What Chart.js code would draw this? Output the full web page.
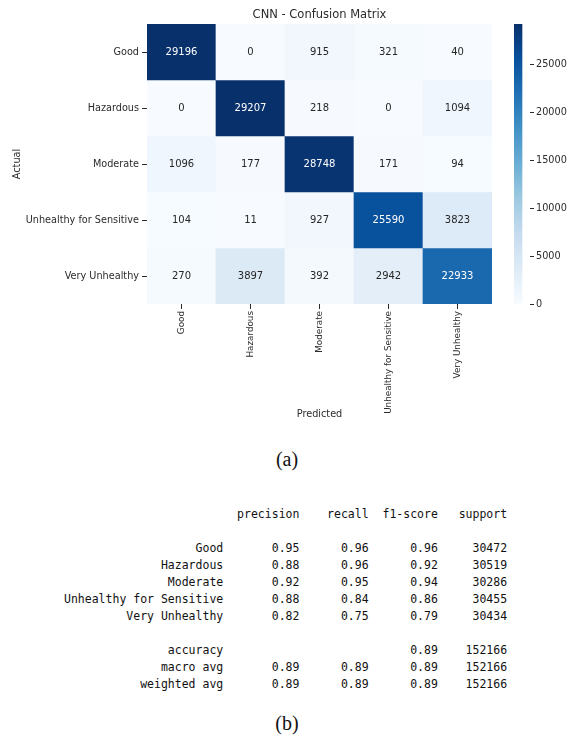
<!DOCTYPE html>
<html>
<head>
<meta charset="utf-8">
<title>CNN - Confusion Matrix</title>
<script src="https://cdn.jsdelivr.net/npm/chart.js@4/dist/chart.umd.min.js"></script>
<style>
  html, body { margin: 0; padding: 0; background: #fff; }
  #wrap { position: relative; width: 572px; height: 742px; overflow: hidden; }
  #heat { position: absolute; left: 0; top: 0; }
  #cbar { position: absolute; left: 500px; top: 0; }
  .cap { position: absolute; left: 0; width: 574px; text-align: center;
         font-family: "Liberation Serif", "Times New Roman", serif; font-size: 20px;
         line-height: 24px; color: #111; }
  #report { position: absolute; left: 64px; top: 506px; margin: 0;
            font-family: "DejaVu Sans Mono", "Liberation Mono", monospace;
            font-size: 11.5px; line-height: 17px; color: #111; white-space: pre; }
</style>
</head>
<body>
<div id="wrap">
  <canvas id="heat" width="572" height="430"></canvas>
  <canvas id="cbar" width="72" height="430"></canvas>
  <div class="cap" style="top:447px">(a)</div>
  <pre id="report"></pre>
  <div class="cap" style="top:711px">(b)</div>
</div>
<script>
// Class names (rows = actual, columns = predicted)
const predictedLabels = ['Good', 'Hazardous', 'Moderate', 'Unhealthy for Sensitive', 'Very Unhealthy'];
const actualLabels = ['Good', 'Hazardous', 'Moderate', 'Unhealthy for Sensitive', 'Very Unhealthy'];

// Confusion matrix counts, one array per actual class
const rowGood = [29196, 0, 915, 321, 40];
const rowHazardous = [0, 29207, 218, 0, 1094];
const rowModerate = [1096, 177, 28748, 171, 94];
const rowUnhealthySensitive = [104, 11, 927, 25590, 3823];
const rowVeryUnhealthy = [270, 3897, 392, 2942, 22933];

// Colour bar tick values
const colorbarTicks = [0, 5000, 10000, 15000, 20000, 25000];

// Classification report
const precision = [0.95, 0.88, 0.92, 0.88, 0.82];
const recall = [0.96, 0.96, 0.95, 0.84, 0.75];
const f1Score = [0.96, 0.92, 0.94, 0.86, 0.79];
const support = [30472, 30519, 30286, 30455, 30434];
const accuracy = 0.89;
const macroAvg = [0.89, 0.89, 0.89];
const weightedAvg = [0.89, 0.89, 0.89];
const totalSupport = 152166;

const matrix = [rowGood, rowHazardous, rowModerate, rowUnhealthySensitive, rowVeryUnhealthy];
const vmin = Math.min(...matrix.flat());
const vmax = Math.max(...matrix.flat());

// "Blues" sequential colour map
const BLUES = ['#f7fbff', '#deebf7', '#c6dbef', '#9ecae1', '#6baed6', '#4292c6', '#2171b5', '#08519c', '#08306b'];
const BLUES_RGB = BLUES.map(h => [1, 3, 5].map(k => parseInt(h.slice(k, k + 2), 16)));
function bluesRgb(t) {
  t = Math.min(1, Math.max(0, t));
  const p = t * (BLUES_RGB.length - 1);
  const i = Math.min(Math.floor(p), BLUES_RGB.length - 2);
  const f = p - i;
  return BLUES_RGB[i].map((a, k) => Math.round(a + (BLUES_RGB[i + 1][k] - a) * f));
}
const norm = v => (v - vmin) / (vmax - vmin);
const cellColor = v => 'rgb(' + bluesRgb(norm(v)).join(',') + ')';
function luminance(rgb) {
  const c = rgb.map(x => { x /= 255; return x <= 0.03928 ? x / 12.92 : Math.pow((x + 0.055) / 1.055, 2.4); });
  return 0.2126 * c[0] + 0.7152 * c[1] + 0.0722 * c[2];
}
const textColor = v => luminance(bluesRgb(norm(v))) > 0.408 ? '#262626' : '#ffffff';

const INK = '#2b2b2b';
const FONT = { family: '"DejaVu Sans", Verdana, sans-serif', size: 9.7 };
const XFONT = { family: FONT.family, size: 8.8 };

// Writes each count in the middle of its cell
const cellValues = {
  id: 'cellValues',
  afterDatasetsDraw(chart) {
    const ctx = chart.ctx;
    ctx.save();
    ctx.font = '10px ' + FONT.family;
    ctx.textAlign = 'center';
    ctx.textBaseline = 'middle';
    chart.data.datasets.forEach((ds, i) => {
      chart.getDatasetMeta(i).data.forEach((bar, j) => {
        const v = matrix[i][j];
        ctx.fillStyle = textColor(v);
        ctx.fillText(String(v), bar.x, (bar.y + bar.base) / 2 + 0.5);
      });
    });
    ctx.restore();
  }
};

// Heat map: one floating bar per cell, each row spanning [i, i + 1] on the y scale
new Chart(document.getElementById('heat'), {
  type: 'bar',
  data: {
    labels: predictedLabels,
    datasets: matrix.map((vals, i) => ({
      label: actualLabels[i],
      data: vals.map(() => [i, i + 1]),
      backgroundColor: vals.map(cellColor),
      borderWidth: 0,
      barPercentage: 1,
      categoryPercentage: 1,
      grouped: false
    }))
  },
  options: {
    responsive: false,
    animation: false,
    events: [],
    layout: { padding: { left: 0, right: 80, top: 0, bottom: 0 } },
    plugins: {
      legend: { display: false },
      tooltip: { enabled: false },
      title: {
        display: true,
        text: 'CNN - Confusion Matrix',
        fullSize: false,
        color: INK,
        font: { family: FONT.family, size: 11.5, weight: 'normal', lineHeight: 1 },
        padding: { top: 9, bottom: 3.5 }
      }
    },
    scales: {
      x: {
        type: 'category',
        offset: true,
        ticks: { minRotation: 90, maxRotation: 90, autoSkip: false, padding: 2, color: INK, font: XFONT },
        grid: { offset: false, drawOnChartArea: false, tickLength: 5, tickColor: INK, tickWidth: 1 },
        border: { display: false },
        title: { display: true, text: 'Predicted', color: INK, font: FONT, padding: { top: 0, bottom: 10 } },
        afterFit: s => { s.height = 126; }
      },
      y: {
        type: 'linear',
        min: 0,
        max: actualLabels.length,
        reverse: true,
        afterBuildTicks: ax => { ax.ticks = actualLabels.map((_, i) => ({ value: i + 0.5 })); },
        ticks: { callback: v => actualLabels[Math.floor(v)], autoSkip: false, padding: 3, color: INK, font: FONT },
        grid: { drawOnChartArea: false, tickLength: 5, tickColor: INK, tickWidth: 1 },
        border: { display: false },
        title: { display: true, text: 'Actual', color: INK, font: FONT, padding: { top: 12, bottom: 0 } },
        afterFit: s => { s.width = 147; }
      }
    }
  },
  plugins: [cellValues]
});

// Colour bar: a single bar from vmin to vmax filled with the colour map
function colorbarFill(context) {
  const chart = context.chart;
  const y = chart.scales && chart.scales.y;
  if (!chart.chartArea || !y) return BLUES[0];
  const g = chart.ctx.createLinearGradient(0, y.getPixelForValue(vmin), 0, y.getPixelForValue(vmax));
  BLUES.forEach((c, k) => g.addColorStop(k / (BLUES.length - 1), c));
  return g;
}

new Chart(document.getElementById('cbar'), {
  type: 'bar',
  data: {
    labels: [''],
    datasets: [{
      data: [[vmin, vmax]],
      backgroundColor: colorbarFill,
      borderWidth: 0,
      barPercentage: 1,
      categoryPercentage: 1
    }]
  },
  options: {
    responsive: false,
    animation: false,
    events: [],
    layout: { padding: { left: 14, right: 0, top: 24, bottom: 126 } },
    plugins: { legend: { display: false }, tooltip: { enabled: false } },
    scales: {
      x: { display: false, offset: false },
      y: {
        position: 'right',
        min: vmin,
        max: vmax,
        afterBuildTicks: ax => { ax.ticks = colorbarTicks.map(v => ({ value: v })); },
        ticks: { callback: v => String(v), padding: 2, color: INK, font: FONT },
        grid: { drawOnChartArea: false, tickLength: 4, tickColor: INK, tickWidth: 1 },
        border: { display: false },
        afterFit: s => { s.width = 42; }
      }
    }
  }
});

// Text classification report
const W = 23;
const num = v => ' ' + v.toFixed(2).padStart(9);
const lines = [];
lines.push(' '.repeat(W) + ' ' + ['precision', 'recall', 'f1-score', 'support'].map(h => ' ' + h.padStart(9)).join(''));
lines.push('');
actualLabels.forEach((name, i) => {
  lines.push(name.padStart(W) + ' ' + num(precision[i]) + num(recall[i]) + num(f1Score[i]) + ' ' + String(support[i]).padStart(9));
});
lines.push('');
lines.push('accuracy'.padStart(W) + ' ' + ' '.repeat(20) + num(accuracy) + ' ' + String(totalSupport).padStart(9));
lines.push('macro avg'.padStart(W) + ' ' + macroAvg.map(num).join('') + ' ' + String(totalSupport).padStart(9));
lines.push('weighted avg'.padStart(W) + ' ' + weightedAvg.map(num).join('') + ' ' + String(totalSupport).padStart(9));
document.getElementById('report').textContent = lines.join('\n');
</script>
</body>
</html>
